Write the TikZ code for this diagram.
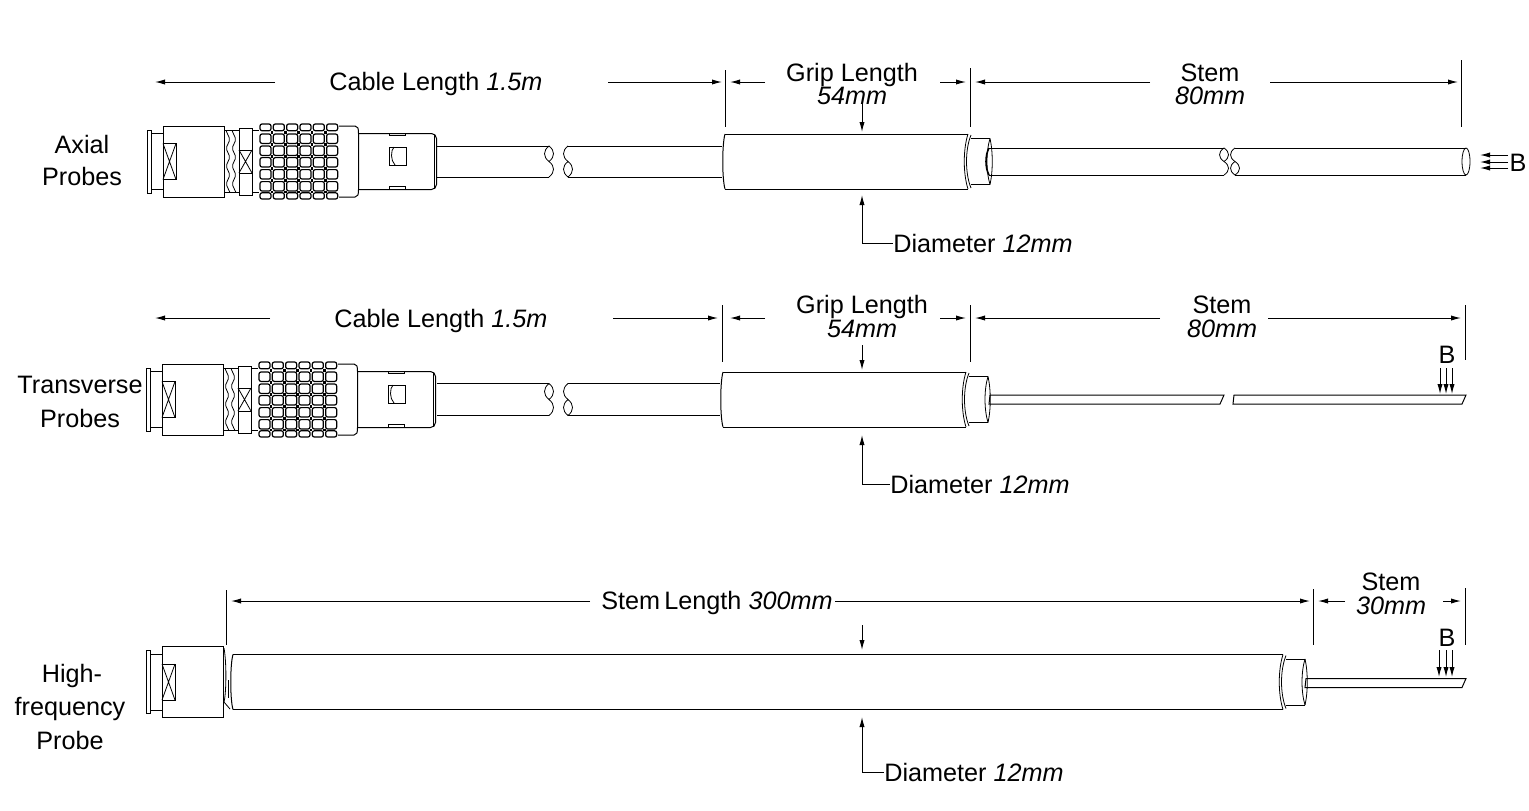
\documentclass[tikz,border=0pt]{standalone}
\usepackage{fontspec}
\setmainfont{Liberation Sans}
\usetikzlibrary{arrows.meta,shapes.geometric}

\tikzset{part/.style={line width=0.5pt,black},
         hairline/.style={line width=0.4pt,black},
         knurl/.style={line width=0.6pt,black,rounded corners=1pt},
         tick/.style={line width=0.5pt,black},
         dimarrow/.style={line width=0.5pt,black,-{Latex[length=5pt,width=2.6pt]}},
         lbl/.style={font=\fontsize{12.6}{14}\selectfont,inner sep=0pt,text=black},
         lbli/.style={lbl,font=\fontsize{12.6}{14}\selectfont\itshape}}

% back end of the connector, also used alone on the last probe
\tikzset{plugcap/.pic={
  \draw[part] (147,-31.5) rectangle (151,31.5);
  \draw[part] (151,-28) -- (163,-28) (151,28) -- (163,28);
  \draw[part] (163,-35.5) rectangle (224,35.5);
  \draw[part] (163,-18) rectangle (176,18);
  \draw[hairline] (163,-18) -- (176,18) (163,18) -- (176,-18);
}}

% thread, nut, knurl and nose of the connector
\tikzset{plugrest/.pic={
  \draw[part] (224,-31) -- (239,-31) (224,31) -- (239,31);
  \foreach \x in {226,232}
    \draw[hairline,rounded corners=1pt] (\x,-31) -- ++(4,8.9) -- ++(-4,8.9) -- ++(4,8.9) -- ++(-4,8.9) -- ++(4,8.9) -- ++(-4,8.9) -- ++(4,8.8);
  \draw[part] (239,-33.5) rectangle (252,33.5);
  \draw[part] (239,-11.5) rectangle (252,11.5);
  \draw[hairline] (239,-11.5) -- (252,11.5) (239,11.5) -- (252,-11.5);
  \draw[part] (252,-31) -- (259,-31) (252,31) -- (259,31);
  \foreach \i in {0,...,5} {
    \foreach \r in {-22.8,-10.8,0.8,12.8,24.8}
      \draw[knurl] (260+13.33*\i,\r-4.7) rectangle ++(11,9.4);
    \draw[knurl] (260+13.33*\i,-37.5) rectangle ++(11,6.7);
    \draw[knurl] (260+13.33*\i,31.3) rectangle ++(11,6.2);
  }
  \foreach \i in {1,...,5}
    \foreach \r in {-29.15,-16.8,-5,6.8,18.8,30.4}
      \fill (257.5+13.33*\i,\r-1.3) rectangle ++(2.6,2.6);
  \draw[part] (339,-35.5) -- (355,-35.5) .. controls (358,-35.5) and (358.5,-33) .. (358.5,-28) -- (358.5,28) .. controls (358.5,33) and (358,35.5) .. (355,35.5) -- (339,35.5);
  \draw[part,rounded corners=2.5pt] (358.5,-28) -- (436.5,-28) -- (436.5,28) -- (358.5,28);
  \draw[hairline] (434,-27) -- (434,27);
  \draw[part] (389,-28) rectangle (405,-26);
  \draw[part] (389,25) -- (405,25) -- (405,28) (389,25) -- (389,28);
  \draw[part] (389,-14.5) rectangle (406,3.5);
  \draw[hairline] (394,-14.5) .. controls (390.5,-11) and (390.5,-1) .. (395,3.5);
}}

% broken end of a round part, with the small lens on the given side
\newcommand{\cutend}[5]{% x, centre, half height, bulge, side of the lens
  \draw[hairline] (#1,#2-#3) .. controls (#1+#4,#2-0.7*#3) and (#1+#4,#2-0.3*#3) .. (#1,#2) .. controls (#1-#4,#2+0.3*#3) and (#1-#4,#2+0.7*#3) .. (#1,#2+#3);
  \draw[hairline] (#1,#2+#5*#3) .. controls (#1+#5*#4,#2+0.7*#5*#3) and (#1+#5*#4,#2+0.3*#5*#3) .. (#1,#2);
}

% cable with its gap, from the nose to the grip
\newcommand{\cablerun}[3]{% centre, half height, grip start
  \draw[part] (437,#1-#2) -- (549,#1-#2) (437,#1+#2) -- (549,#1+#2);
  \cutend{549}{#1}{#2}{-6}{-1}
  \draw[part] (568,#1-#2) -- (#3,#1-#2) (568,#1+#2) -- (#3,#1+#2);
  \cutend{568}{#1}{#2}{-6}{1}
}

% grip or long tube, with the collar at its right end
\newcommand{\gripbody}[4]{% left, right, centre, half height
  \draw[part] (#1+3,#3-#4) -- (#2,#3-#4) (#1+3,#3+#4) -- (#2,#3+#4);
  \draw[part] (#1+3,#3-#4) .. controls (#1,#3-#4+10) and (#1,#3+#4-10) .. (#1+3,#3+#4);
  \draw[hairline] (#2,#3-#4) .. controls (#2-5,#3-12) and (#2-5,#3+12) .. (#2,#3+#4);
  \draw[hairline] (#2+3,#3-#4+1) .. controls (#2-3,#3-12) and (#2-3,#3+12) .. (#2+3,#3+#4-1);
  \draw[part] (#2+3,#3-23) -- (#2+22,#3-23) (#2+3,#3+23) -- (#2+22,#3+23);
  \draw[hairline] (#2+22,#3-23) .. controls (#2+25,#3-10) and (#2+25,#3+10) .. (#2+22,#3+23);
  \draw[hairline] (#2+22,#3-23) .. controls (#2+18,#3-10) and (#2+18,#3+10) .. (#2+22,#3+23);
}

% flat blade of the transverse and high-frequency probes
\newcommand{\blade}[3]{% left, right, centre
  \draw[part] (#1+1,#3-4.5) -- (#2,#3-4.5) -- (#2-4,#3+4.5) -- (#1,#3+4.5) -- cycle;
}

\begin{document}
\begin{tikzpicture}[x=0.5pt,y=-0.5pt]
\useasboundingbox (0,0) rectangle (1529,810);

% axial probe
\pic at (0,161.5) {plugcap};
\pic at (0,161.5) {plugrest};
\cablerun{161.5}{15.5}{722}
\gripbody{722}{968}{161.5}{27.5}
\draw[part] (993,148) -- (1224,148) (993,175) -- (1224,175);
\draw[line width=0.8pt] (989,148) .. controls (985,155) and (985,168) .. (989,175);
\draw[part] (989,148) -- (993,148) (989,175) -- (993,175);
\cutend{1224}{161.5}{13.5}{-6}{-1}
\cutend{1235}{161.5}{13.5}{-6}{1}
\draw[part] (1235,148) -- (1466,148) (1235,175) -- (1466,175);
\node[draw,ellipse,line width=0.4pt,minimum width=4pt,minimum height=13.5pt,inner sep=0pt] (endface) at (1466,161.5) {};

% transverse probe
\pic at (-1,399.5) {plugcap};
\pic at (-1,399.5) {plugrest};
\cablerun{399.5}{16}{720}
\gripbody{720}{966}{399.5}{27.5}
\blade{989}{1224}{399.5}
\blade{1233}{1466}{399.5}

% high-frequency probe
\pic at (-1,682) {plugcap};
\gripbody{230}{1283}{682}{27.5}
\draw[hairline] (224,648) .. controls (227,665) and (226,695) .. (224,702) -- (230,709);
\draw[line width=0.9pt] (228.5,680) -- (228.5,698);
\blade{1305}{1466}{683}

% dimension lines
\foreach \n/\xa/\ya/\xb/\yb in {
  ca/275/82/155/82, cb/608/82/722/82, gb/765/82/730/82, gc/940/82/966/82,
  sa/1150/82/975/82, sb/1270/82/1458/82,
  da/862/103/862/132, db/862/243/862/195,
  ba/1508/155/1480/155, bb/1508/162/1480/162, bc/1508/168/1480/168,
  tca/270/318/155/318, tcb/613/318/718/318, tga/765/318/730/318, tgb/940/318/966/318,
  tsa/1160/318/975/318, tsb/1268/318/1461/318,
  tda/862/345/862/370, tdb/862/484/862/435,
  tba/1440/368/1440/394, tbb/1446/368/1446/394, tbc/1452/368/1452/394,
  hsa/590/601/231/601, hsb/835/601/1310/601, hsc/1345/601/1318/601, hsd/1443/601/1461/601,
  hda/862/625/862/650, hdb/862/772/862/717,
  hba/1439/650/1439/677, hbb/1446/650/1446/677, hbc/1452/650/1452/677} {
  \coordinate (\n s) at (\xa,\ya);
  \coordinate (\n e) at (\xb,\yb);
  \draw[dimarrow] (\n s) -- (\n e);
}

% extension lines
\foreach \n/\x/\ya/\yb in {
  va/725/70/127, vb/970/68/127, vc/1461/60/127,
  vd/722/305/362, ve/970/305/362, vf/1465/305/360,
  vg/226/590/645, vh/1313/589/645, vi/1465/588/645} {
  \coordinate (\n s) at (\x,\ya);
  \coordinate (\n e) at (\x,\yb);
  \draw[tick] (\n s) -- (\n e);
}

% texts
\node[lbl,anchor=west] (diaa) at (893,243) {Diameter \textit{12mm}};
\node[lbl,anchor=west] (diab) at (890,484) {Diameter \textit{12mm}};
\node[lbl,anchor=west] (diac) at (884,772) {Diameter \textit{12mm}};
\draw[tick] (dbs) -- (diaa.west);
\draw[tick] (tdbs) -- (diab.west);
\draw[tick] (hdbs) -- (diac.west);

\node[lbl,anchor=west] (cablea) at (329,84) {Cable Length \textit{1.5m}};
\node[lbl,anchor=west] (cableb) at (334,321) {Cable Length \textit{1.5m}};
\node[lbl] (gripa) at (852,75) {Grip Length};
\node[lbli] (gripamm) at (852,96) {54mm};
\node[lbl] (gripb) at (862,307) {Grip Length};
\node[lbli] (gripbmm) at (862,329) {54mm};
\node[lbl] (stema) at (1210,73) {Stem};
\node[lbli] (stemamm) at (1210,96) {80mm};
\node[lbl] (stemb) at (1222,305) {Stem};
\node[lbli] (stembmm) at (1222,329) {80mm};
\node[lbl,anchor=west] (stemlen) at (601,603) {Stem\,Length \textit{300mm}};
\node[lbl] (stemc) at (1391,582) {Stem};
\node[lbli] (stemcmm) at (1391,606) {30mm};
\node[lbl] (ba) at (1518,163) {B};
\node[lbl] (bb) at (1447,355) {B};
\node[lbl] (bc) at (1447,638) {B};
\node[lbl] (axa) at (82,144) {Axial};
\node[lbl] (axb) at (82,176) {Probes};
\node[lbl] (tra) at (80,385) {Transverse};
\node[lbl] (trb) at (80,418) {Probes};
\node[lbl] (hfa) at (72,676) {High-};
\node[lbl] (hfb) at (70,709) {frequency};
\node[lbl] (hfc) at (70,740) {Probe};

\end{tikzpicture}
\end{document}
